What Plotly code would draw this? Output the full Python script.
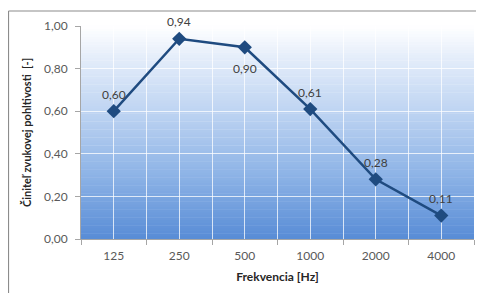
import plotly.graph_objects as go

categories = ["125", "250", "500", "1000", "2000", "4000"]
values = [0.60, 0.94, 0.90, 0.61, 0.28, 0.11]
label_above = [True, True, False, True, True, True]
y_ticks = [0.0, 0.2, 0.4, 0.6, 0.8, 1.0]

# the page body adds an 8px offset, so the figure is 8px smaller and shifted
W, H = 476, 285
L, R, T, B = 73, 10, 18, 54

def lerp(c1, c2, t):
    return tuple(round(a + (b - a) * t) for a, b in zip(c1, c2))

stops = [(0.0, (88, 140, 214)), (0.3, (141, 179, 230)), (0.6, (190, 212, 242)), (0.85, (228, 237, 250)), (1.0, (255, 255, 255))]

def grad(t):
    for (t0, c0), (t1, c1) in zip(stops[:-1], stops[1:]):
        if t0 <= t <= t1:
            return lerp(c0, c1, (t - t0) / (t1 - t0))
    return stops[-1][1]

shapes = []
N = 80
for i in range(N):
    t0, t1 = i / N, (i + 1) / N
    c = grad((t0 + t1) / 2)
    shapes.append(dict(type="rect", xref="x domain", yref="y domain", x0=0, x1=1, y0=t0, y1=t1 + 0.002,
                       fillcolor="rgb(%d,%d,%d)" % c, line=dict(width=0), layer="below"))

pw, ph = W - L - R, H - T - B
bx = (0.5 - L) / pw
by = (H - B - 3) / ph
shapes.append(dict(type="line", xref="paper", yref="paper", x0=bx, x1=bx, y0=by, y1=-B / ph - 0.1,
                   line=dict(color="#8c8c8c", width=1.2)))
shapes.append(dict(type="line", xref="paper", yref="paper", x0=bx, x1=1 + R / pw + 0.1, y0=by, y1=by,
                   line=dict(color="#8c8c8c", width=1.2)))

annotations = []
for i, (v, up) in enumerate(zip(values, label_above)):
    annotations.append(dict(
        x=i, y=v, xref="x", yref="y", text=f"{v:.2f}".replace(".", ","), showarrow=False,
        yshift=17 if up else -21, font=dict(family="Lato, sans-serif", size=12, color="#404040"),
    ))

fig = go.Figure()
fig.add_trace(go.Scatter(
    x=categories, y=values, mode="lines+markers",
    line=dict(color="#1f4b80", width=2.5),
    marker=dict(symbol="diamond", size=11, color="#1f4b80"),
    cliponaxis=False, showlegend=False,
))
fig.add_trace(go.Scatter(x=categories, y=values, xaxis="x2", mode="none", showlegend=False, hoverinfo="skip"))

fig.update_layout(
    width=W, height=H,
    margin=dict(l=L, r=R, t=T, b=B, autoexpand=False),
    paper_bgcolor="white", plot_bgcolor="rgba(0,0,0,0)",
    separators=",.",
    shapes=shapes,
    annotations=annotations,
    font=dict(family="Lato, sans-serif", color="#595959", size=12),
    xaxis=dict(
        type="category", range=[-0.5, 5.5], tickson="boundaries", automargin=False,
        showgrid=True, gridcolor="rgba(255,255,255,0.75)", gridwidth=1,
        ticks="outside", ticklen=5, tickcolor="#a6a6a6", ticklabelstandoff=6,
        showline=True, linecolor="#a6a6a6", linewidth=1,
        tickfont=dict(size=12, color="#595959"),
        title=dict(text="<b>Frekvencia [Hz]</b>", font=dict(size=12, color="#262626"), standoff=10),
        zeroline=False,
    ),
    xaxis2=dict(
        type="category", range=[-0.5, 5.5], overlaying="x", matches="x", automargin=False,
        showgrid=True, gridcolor="rgba(255,255,255,0.75)", gridwidth=1,
        showticklabels=False, ticks="", showline=False, zeroline=False,
    ),
    yaxis=dict(
        range=[0, 1.0], tickvals=y_ticks, tickformat=".2f", automargin=False,
        showgrid=True, gridcolor="rgba(255,255,255,0.75)", gridwidth=1,
        ticks="outside", ticklen=5, tickcolor="#a6a6a6", ticklabelstandoff=5,
        showline=True, linecolor="#a6a6a6", linewidth=1,
        tickfont=dict(size=12, color="#595959"),
        title=dict(text="<b>Činiteľ zvukovej pohltivosti  [-]</b>", font=dict(size=11, color="#262626"), standoff=10),
        zeroline=False,
    ),
)

fig.write_html("out.html")
